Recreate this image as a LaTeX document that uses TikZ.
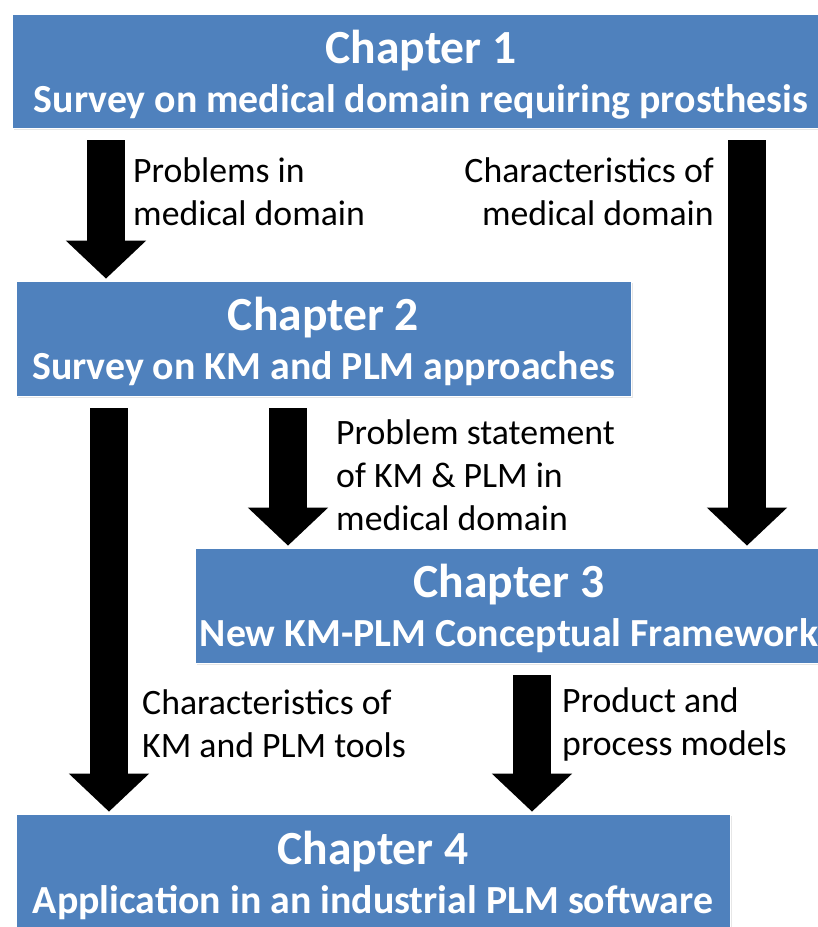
\documentclass[tikz,border=0pt]{standalone}
\usepackage{fontspec}
\setmainfont{Carlito}
\usetikzlibrary{positioning, arrows.meta, shadows}
\definecolor{chapblue}{RGB}{79,129,189}
\newcommand{\chapfont}{\bfseries\fontsize{40.6}{48}\selectfont}
\newcommand{\subfont}{\bfseries\fontsize{34}{41.8}\selectfont}
\newcommand{\labfont}{\fontsize{30.5}{36.7}\selectfont}

\begin{document}
\begin{tikzpicture}[x=0.03cm, y=-0.03cm,
		chapter/.style={fill=chapblue, draw=white, line width=0.6pt, text=white, align=center, font=\subfont, inner sep=0pt, text depth=0pt,
			drop shadow={opacity=0.2, shadow xshift=0.05cm, shadow yshift=-0.06cm}},
		flow/.style={line width=1.14cm, -{Triangle[width=2.34cm, length=1.14cm]}, shorten <=0.36cm, shorten >=0.06cm},
		lab/.style={font=\labfont, inner sep=0pt}]
		\clip (0,0) rectangle (818,927);
		
		% Chapter boxes
		\node[chapter, minimum width=24.51cm, minimum height=3.42cm] (c1) at (421,71)
			{{\chapfont Chapter 1}\\Survey on medical domain requiring prosthesis};
		\node[chapter, minimum width=18.45cm, minimum height=3.45cm] (c2) at (323.5,338.5)
			{{\chapfont Chapter 2}\\Survey on KM and PLM approaches};
		\node[chapter, minimum width=18.84cm, minimum height=3.45cm] (c3) at (509,605.5)
			{{\chapfont Chapter 3}\\New KM-PLM Conceptual Framework};
		\node[chapter, minimum width=21.42cm, minimum height=3.48cm] (c4) at (373,872)
			{{\chapfont Chapter 4}\\Application in an industrial PLM software};
		
		% Block arrows between chapters
		\draw[flow] (c1.south -| 106,0) -- (c2.north -| 106,0);
		\draw[flow] (c1.south -| 747,0) -- (c3.north -| 747,0);
		\draw[flow] (c2.south -| 109,0) -- (c4.north -| 109,0);
		\draw[flow] (c2.south -| 288,0) -- (c3.north -| 288,0);
		\draw[flow] (c3.south -| 532,0) -- (c4.north -| 532,0);
		
		% Labels of the arrows
		\node[lab, anchor=west, align=left] (problems) at (133,191.5) {Problems in\\medical domain};
		\node[lab, anchor=east, align=right] (charmed) at (714,191.5) {Characteristics of\\medical domain};
		\node[lab, anchor=west, align=left] (statement) at (336,475) {Problem statement\\of KM \& PLM in\\medical domain};
		\node[lab, anchor=west, align=left] (chartools) at (142,724) {Characteristics of\\KM and PLM tools};
		\node[lab, anchor=west, align=left] (models) at (562,724) {Product and\\process models};
	\end{tikzpicture}
\end{document}
